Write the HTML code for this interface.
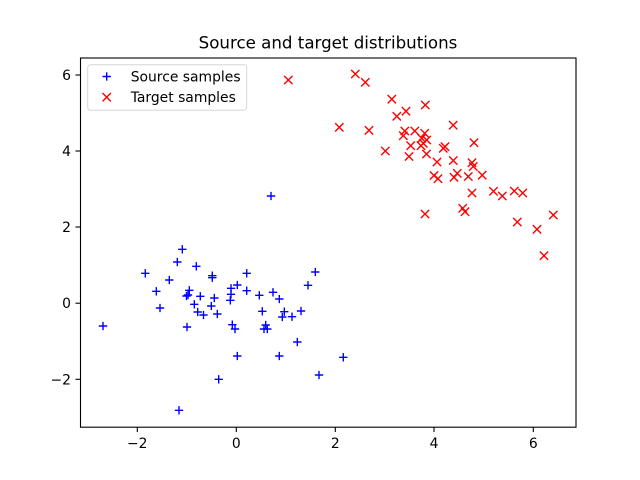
<!DOCTYPE html>
<html><head><meta charset="utf-8"><style>
html,body{margin:0;padding:0;background:#fff;}
svg{display:block;}
text{font-family:"DejaVu Sans","Liberation Sans",sans-serif;fill:#000;}
</style></head><body>
<svg width="640" height="480" viewBox="0 0 640 480" xmlns="http://www.w3.org/2000/svg">
<defs>
<path id="p" d="M-4.17,0H4.17M0,-4.17V4.17" stroke="#0000ff" stroke-width="1.39" fill="none"/>
<path id="x" d="M-4.17,-4.17L4.17,4.17M-4.17,4.17L4.17,-4.17" stroke="#ff0000" stroke-width="1.39" fill="none"/>
</defs>
<rect x="0" y="0" width="640" height="480" fill="#fff"/>
<text x="328" y="48.5" font-size="16.67" text-anchor="middle">Source and target distributions</text>
<g>
<use href="#p" x="182.3" y="249.3"/><use href="#p" x="177.3" y="262"/><use href="#p" x="196.3" y="266.3"/>
<use href="#p" x="145.3" y="273.3"/><use href="#p" x="169.3" y="280"/><use href="#p" x="212.3" y="275.7"/>
<use href="#p" x="212.3" y="277.7"/><use href="#p" x="156.3" y="291.3"/><use href="#p" x="189.3" y="290.3"/>
<use href="#p" x="186.5" y="296"/><use href="#p" x="188" y="295"/><use href="#p" x="200.3" y="296.3"/>
<use href="#p" x="214.3" y="298"/><use href="#p" x="160" y="308"/><use href="#p" x="194.3" y="304.3"/>
<use href="#p" x="211.3" y="306"/><use href="#p" x="197.7" y="312"/><use href="#p" x="203.5" y="315"/>
<use href="#p" x="217.3" y="314"/><use href="#p" x="271" y="196"/><use href="#p" x="246.7" y="273.3"/>
<use href="#p" x="315.3" y="272"/><use href="#p" x="308" y="285.3"/><use href="#p" x="237.3" y="285"/>
<use href="#p" x="231" y="288.3"/><use href="#p" x="231" y="294.3"/><use href="#p" x="246.7" y="290.7"/>
<use href="#p" x="259.3" y="295.3"/><use href="#p" x="273" y="292.3"/><use href="#p" x="279.3" y="299"/>
<use href="#p" x="230.3" y="300.3"/><use href="#p" x="262.3" y="311.3"/><use href="#p" x="284.3" y="311.7"/>
<use href="#p" x="301" y="311"/><use href="#p" x="282.3" y="317"/><use href="#p" x="292" y="316.7"/>
<use href="#p" x="103" y="326"/><use href="#p" x="187" y="327"/><use href="#p" x="232.3" y="324.7"/>
<use href="#p" x="235" y="329"/><use href="#p" x="265.7" y="325"/><use href="#p" x="264" y="329"/>
<use href="#p" x="267.3" y="329"/><use href="#p" x="297.3" y="342"/><use href="#p" x="237.3" y="356"/>
<use href="#p" x="279.3" y="356"/><use href="#p" x="343.3" y="357.3"/><use href="#p" x="319" y="375"/>
<use href="#p" x="218.7" y="379.3"/><use href="#p" x="179" y="410.3"/>
</g>
<g>
<use href="#x" x="288.3" y="80"/><use href="#x" x="355.3" y="74"/><use href="#x" x="365.3" y="82.3"/>
<use href="#x" x="391.8" y="99.2"/><use href="#x" x="396.8" y="116.3"/><use href="#x" x="406" y="111.2"/>
<use href="#x" x="339.3" y="127.3"/><use href="#x" x="369" y="130.3"/><use href="#x" x="385.3" y="151"/>
<use href="#x" x="409" y="156.5"/><use href="#x" x="425.3" y="105"/><use href="#x" x="453.2" y="125.2"/>
<use href="#x" x="404.8" y="131"/><use href="#x" x="414.8" y="131"/><use href="#x" x="403.3" y="135.7"/>
<use href="#x" x="424.7" y="133.3"/><use href="#x" x="421.7" y="138.3"/><use href="#x" x="426.7" y="140"/>
<use href="#x" x="423.3" y="143.3"/><use href="#x" x="421" y="145.7"/><use href="#x" x="410.7" y="145.7"/>
<use href="#x" x="445" y="146.7"/><use href="#x" x="443.3" y="148.3"/><use href="#x" x="426.5" y="154"/>
<use href="#x" x="437" y="162"/><use href="#x" x="453.3" y="160.5"/><use href="#x" x="474" y="142.7"/>
<use href="#x" x="472" y="162.7"/><use href="#x" x="473.3" y="166.5"/><use href="#x" x="434" y="175.5"/>
<use href="#x" x="438" y="178.7"/><use href="#x" x="454" y="177.3"/><use href="#x" x="457.3" y="173.3"/>
<use href="#x" x="468.3" y="176.5"/><use href="#x" x="482.2" y="175.2"/><use href="#x" x="472" y="193"/>
<use href="#x" x="493.5" y="191.3"/><use href="#x" x="502.3" y="196"/><use href="#x" x="514.3" y="191"/>
<use href="#x" x="522.7" y="193"/><use href="#x" x="425" y="214"/><use href="#x" x="462.7" y="208.3"/>
<use href="#x" x="465" y="211.7"/><use href="#x" x="553.3" y="215"/><use href="#x" x="517.3" y="222"/>
<use href="#x" x="537" y="229.3"/><use href="#x" x="544" y="255.7"/>
</g>
<rect x="80.5" y="58" width="495.5" height="369.2" fill="none" stroke="#000" stroke-width="1.1"/>
<g stroke="#000" stroke-width="1.1">
<line x1="137.3" y1="427.2" x2="137.3" y2="432"/>
<line x1="236.3" y1="427.2" x2="236.3" y2="432"/>
<line x1="335.3" y1="427.2" x2="335.3" y2="432"/>
<line x1="434" y1="427.2" x2="434" y2="432"/>
<line x1="533.3" y1="427.2" x2="533.3" y2="432"/>
<line x1="75.5" y1="75" x2="80.5" y2="75"/>
<line x1="75.5" y1="151" x2="80.5" y2="151"/>
<line x1="75.5" y1="227" x2="80.5" y2="227"/>
<line x1="75.5" y1="303.2" x2="80.5" y2="303.2"/>
<line x1="75.5" y1="379.3" x2="80.5" y2="379.3"/>
</g>
<g font-size="13.9" text-anchor="middle">
<text x="137.3" y="448">−2</text>
<text x="236.3" y="448">0</text>
<text x="335.3" y="448">2</text>
<text x="434" y="448">4</text>
<text x="533.3" y="448">6</text>
</g>
<g font-size="13.9" text-anchor="end">
<text x="71" y="80">6</text>
<text x="71" y="156">4</text>
<text x="71" y="232">2</text>
<text x="71" y="308.2">0</text>
<text x="71" y="384.3">−2</text>
</g>
<rect x="87.7" y="64.7" width="159" height="45.6" rx="3" ry="3" fill="#fff" fill-opacity="0.8" stroke="#d6d6d6" stroke-width="1"/>
<use href="#p" x="106.7" y="76.5"/>
<use href="#x" x="106.7" y="97.2"/>
<text x="130.7" y="81.5" font-size="13.9">Source samples</text>
<text x="130.7" y="102" font-size="13.9">Target samples</text>
</svg>
</body></html>
